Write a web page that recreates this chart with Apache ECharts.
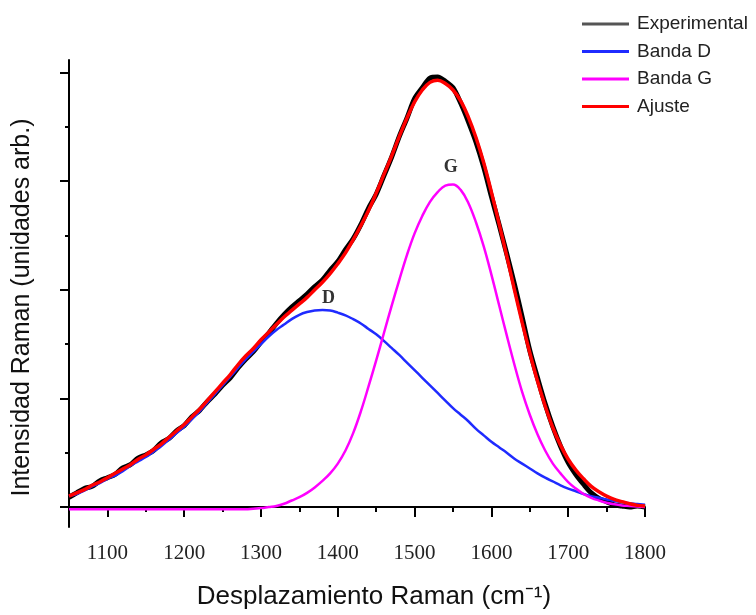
<!DOCTYPE html>
<html>
<head>
<meta charset="utf-8">
<script src="https://cdn.jsdelivr.net/npm/echarts@6/dist/echarts.min.js"></script>
<style>
  html, body { margin: 0; padding: 0; background: #ffffff; }
  #chart { width: 756px; height: 615px; }
</style>
</head>
<body>
<div id="chart"></div>
<script>
// Raman shift (cm-1), sampled every 10 cm-1 for the spectrum and for the fit
const shift = [1050,1060,1070,1080,1090,1100,1110,1120,1130,1140,1150,1160,1170,1180,1190,1200,1210,1220,1230,1240,1250,1260,1270,1280,1290,1300,1310,1320,1330,1340,1350,1360,1370,1380,1390,1400,1410,1420,1430,1440,1450,1460,1470,1480,1490,1500,1510,1520,1530,1540,1550,1560,1570,1580,1590,1600,1610,1620,1630,1640,1650,1660,1670,1680,1690,1700,1710,1720,1730,1740,1750,1760,1770,1780,1790,1800];

// Measured spectrum
const intensityExp = [0.09,0.13,0.17,0.19,0.24,0.27,0.30,0.36,0.39,0.45,0.48,0.52,0.59,0.63,0.70,0.75,0.83,0.89,0.97,1.04,1.12,1.19,1.28,1.36,1.43,1.52,1.60,1.69,1.77,1.84,1.90,1.96,2.03,2.09,2.18,2.26,2.37,2.47,2.60,2.75,2.88,3.05,3.22,3.41,3.58,3.76,3.86,3.95,3.96,3.92,3.86,3.72,3.55,3.36,3.13,2.86,2.60,2.33,2.05,1.75,1.44,1.19,0.95,0.74,0.56,0.41,0.30,0.21,0.13,0.08,0.05,0.02,0.01,0.00,0.01,0.00];

// D band component
const bandD = [0.10,0.12,0.15,0.19,0.22,0.26,0.29,0.33,0.38,0.42,0.46,0.51,0.56,0.62,0.68,0.74,0.81,0.88,0.96,1.04,1.12,1.20,1.28,1.36,1.43,1.50,1.57,1.63,1.68,1.73,1.77,1.795,1.81,1.815,1.81,1.79,1.765,1.73,1.69,1.64,1.59,1.53,1.465,1.40,1.33,1.26,1.19,1.12,1.05,0.98,0.91,0.85,0.79,0.72,0.66,0.60,0.55,0.50,0.445,0.40,0.355,0.31,0.27,0.235,0.20,0.17,0.145,0.12,0.10,0.085,0.07,0.055,0.045,0.035,0.028,0.02];

// G band component
const bandG = [-0.02,-0.02,-0.02,-0.02,-0.02,-0.02,-0.02,-0.02,-0.02,-0.02,-0.02,-0.02,-0.02,-0.02,-0.02,-0.02,-0.02,-0.02,-0.02,-0.02,-0.02,-0.02,-0.02,-0.02,-0.015,-0.01,0.00,0.01,0.03,0.06,0.09,0.13,0.18,0.24,0.31,0.40,0.52,0.68,0.88,1.11,1.35,1.60,1.85,2.09,2.32,2.52,2.68,2.81,2.90,2.96,2.97,2.92,2.80,2.62,2.40,2.14,1.86,1.58,1.31,1.06,0.85,0.67,0.52,0.40,0.31,0.23,0.17,0.12,0.085,0.06,0.04,0.025,0.015,0.01,0.005,0.00];

// Total fit
const fitTotal = [0.10,0.13,0.16,0.20,0.23,0.27,0.31,0.35,0.39,0.44,0.48,0.53,0.58,0.64,0.70,0.76,0.83,0.90,0.98,1.06,1.14,1.22,1.31,1.39,1.46,1.54,1.61,1.68,1.75,1.81,1.87,1.93,2.00,2.07,2.15,2.24,2.34,2.46,2.59,2.73,2.89,3.06,3.23,3.41,3.58,3.73,3.84,3.91,3.93,3.90,3.84,3.74,3.59,3.40,3.17,2.90,2.61,2.31,2.00,1.70,1.42,1.16,0.93,0.73,0.57,0.44,0.34,0.26,0.19,0.14,0.10,0.07,0.05,0.03,0.015,0.01];

// Band annotations [shift, intensity, text]
const bandLabels = [[1388, 1.92, 'D'], [1547, 3.13, 'G']];

// Tick positions
const xMajorTicks = [1100,1200,1300,1400,1500,1600,1700,1800];
const xMinorTicks = [1050,1150,1250,1350,1450,1550,1650,1750];
const yMajorTicks = [0,1,2,3,4];
const yMinorTicks = [0.5,1.5,2.5,3.5];

const pairs = (xs, ys) => xs.map((x, i) => [x, ys[i]]);

const chart = echarts.init(document.getElementById('chart'), null, { renderer: 'canvas' });

const X_MIN = 1050, X_MAX = 1800, Y_MIN = -0.184, Y_MAX = 4.116;
const SANS = 'Liberation Sans, Arial, sans-serif';
const SERIF = 'Liberation Serif, Times New Roman, serif';

const bandLabel = (entry) => ({
  symbol: 'rect', symbolSize: 0,
  label: { show: true, formatter: entry[2], fontFamily: SERIF, fontSize: 18, fontWeight: 'bold', color: '#333' },
  data: [{ coord: [entry[0], entry[1]] }]
});

const option = {
  animation: false,
  backgroundColor: '#ffffff',
  grid: { left: 69, right: 111, top: 60, bottom: 88, containLabel: false },
  legend: {
    orient: 'vertical',
    left: 582,
    top: 14,
    padding: 0,
    icon: 'rect',
    itemWidth: 47,
    itemHeight: 3,
    itemGap: 7.5,
    textStyle: { fontFamily: SANS, fontSize: 19, color: '#222', lineHeight: 20, padding: [0, 0, 0, 3] },
    data: [
      { name: 'Experimental', itemStyle: { color: '#555555' } },
      { name: 'Banda D', itemStyle: { color: '#1f2bff' } },
      { name: 'Banda G', itemStyle: { color: '#ff00ff' } },
      { name: 'Ajuste', itemStyle: { color: '#ff0000' } }
    ]
  },
  xAxis: [
    {
      type: 'value', min: X_MIN, max: X_MAX,
      name: 'Desplazamiento Raman (cm\u207B\u00B9)',
      nameLocation: 'middle', nameGap: 57,
      nameTextStyle: { fontFamily: SANS, fontSize: 26, color: '#111', padding: [0, 0, 0, 34] },
      axisLine: { lineStyle: { color: '#000', width: 2 } },
      axisTick: { show: true, inside: false, length: 10, lineStyle: { color: '#000', width: 2 }, customValues: xMajorTicks },
      axisLabel: { show: true, margin: 16, fontFamily: SERIF, fontSize: 21, color: '#222', customValues: xMajorTicks, formatter: (v) => String(v) },
      splitLine: { show: false }
    },
    {
      type: 'value', min: X_MIN, max: X_MAX, position: 'bottom',
      axisLine: { show: false },
      axisTick: { show: true, inside: false, length: 5, lineStyle: { color: '#000', width: 2 }, customValues: xMinorTicks },
      axisLabel: { show: false },
      splitLine: { show: false }
    }
  ],
  yAxis: [
    {
      type: 'value', min: Y_MIN, max: Y_MAX,
      name: 'Intensidad Raman (unidades arb.)',
      nameLocation: 'middle', nameGap: 34, nameRotate: 90,
      nameTextStyle: { fontFamily: SANS, fontSize: 25, color: '#111', padding: [0, 28, 0, 0] },
      axisLine: { show: true, lineStyle: { color: '#000', width: 2 } },
      axisTick: { show: true, inside: false, length: 9, lineStyle: { color: '#000', width: 2 }, customValues: yMajorTicks },
      axisLabel: { show: false },
      splitLine: { show: false }
    },
    {
      type: 'value', min: Y_MIN, max: Y_MAX, position: 'left',
      axisLine: { show: false },
      axisTick: { show: true, inside: false, length: 4, lineStyle: { color: '#000', width: 2 }, customValues: yMinorTicks },
      axisLabel: { show: false },
      splitLine: { show: false }
    }
  ],
  series: [
    {
      name: 'Experimental', type: 'line', symbol: 'none', smooth: 0.3,
      data: pairs(shift, intensityExp),
      lineStyle: { color: '#000000', width: 5 },
      itemStyle: { color: '#555555' },
      z: 2
    },
    {
      name: 'Banda D', type: 'line', symbol: 'none', smooth: 0.4,
      data: pairs(shift, bandD),
      lineStyle: { color: '#1f2bff', width: 2.5 },
      itemStyle: { color: '#1f2bff' },
      z: 3,
      markPoint: bandLabel(bandLabels[0])
    },
    {
      name: 'Banda G', type: 'line', symbol: 'none', smooth: 0.4,
      data: pairs(shift, bandG),
      lineStyle: { color: '#ff00ff', width: 2.5 },
      itemStyle: { color: '#ff00ff' },
      z: 4,
      markPoint: bandLabel(bandLabels[1])
    },
    {
      name: 'Ajuste', type: 'line', symbol: 'none', smooth: 0.4,
      data: pairs(shift, fitTotal),
      lineStyle: { color: '#ff0000', width: 3.5 },
      itemStyle: { color: '#ff0000' },
      z: 5
    }
  ]
};

chart.setOption(option);
</script>
</body>
</html>
